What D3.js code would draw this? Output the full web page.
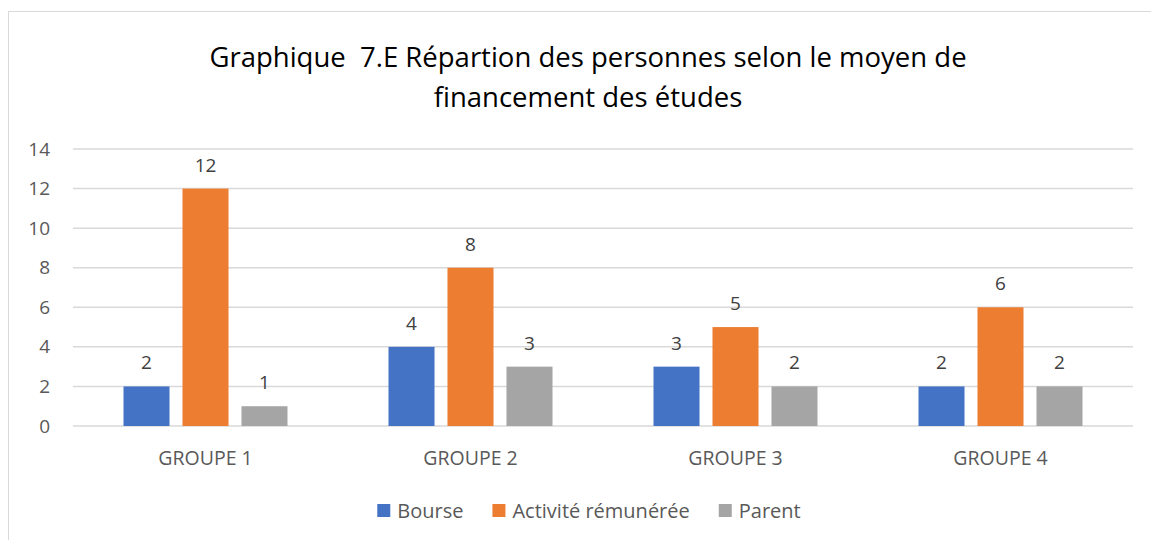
<!DOCTYPE html>
<html>
<head>
<meta charset="utf-8">
<script src="https://cdn.jsdelivr.net/npm/d3@7"></script>
<style>
  body { margin: 0; background: #fff; }
  svg text { font-family: "Open Sans", sans-serif; white-space: pre; }
</style>
</head>
<body>
<div id="chart"></div>
<script>
// Chart data
const groups = ['GROUPE 1', 'GROUPE 2', 'GROUPE 3', 'GROUPE 4'];
const seriesNames = ['Bourse', 'Activité rémunérée', 'Parent'];
const bourse = [2, 4, 3, 2];
const activite = [12, 8, 5, 6];
const parent = [1, 3, 2, 2];
const yTicks = [0, 2, 4, 6, 8, 10, 12, 14];
const titleLines = ['Graphique  7.E Répartion des personnes selon le moyen de', 'financement des études'];

const width = 1151;
const height = 540;
const margin = { top: 149, right: 18, bottom: 114, left: 73 };

const svg = d3.select('#chart')
    .append('svg')
    .attr('width', width)
    .attr('height', height);

// Chart area border (only left and top visible)
svg.append('rect')
    .attr('x', 8.5)
    .attr('y', 11.5)
    .attr('width', width + 10)
    .attr('height', height + 10)
    .attr('fill', '#fff')
    .attr('stroke', '#d9d9d9')
    .attr('stroke-width', 1);

const colorScale = d3.scaleOrdinal()
    .domain(seriesNames)
    .range(['#4472C4', '#ED7D31', '#A5A5A5']);

const valuesBySeries = [bourse, activite, parent];
const rows = groups.map((g, i) => ({
    group: g,
    values: seriesNames.map((s, j) => ({ series: s, value: valuesBySeries[j][i] }))
}));

const x0 = d3.scaleBand()
    .domain(groups)
    .range([margin.left, width - margin.right])
    .padding(0);

const x1 = d3.scaleBand()
    .domain(seriesNames)
    .range([0, x0.bandwidth()])
    .paddingInner(0.22)
    .paddingOuter(0.856);

const y = d3.scaleLinear()
    .domain([0, 14])
    .range([height - margin.bottom, margin.top]);

// Title
svg.append('g')
    .selectAll('text')
    .data(titleLines)
    .join('text')
    .attr('x', 588)
    .attr('y', (d, i) => 67 + i * 40)
    .attr('text-anchor', 'middle')
    .attr('font-size', 27.5)
    .attr('fill', '#000')
    .text(d => d);

// Gridlines
svg.append('g')
    .selectAll('line')
    .data(yTicks)
    .join('line')
    .attr('x1', margin.left)
    .attr('x2', width - margin.right)
    .attr('y1', d => y(d))
    .attr('y2', d => y(d))
    .attr('stroke', '#d9d9d9')
    .attr('stroke-width', 1.5);

// Y axis labels
const yAxis = d3.axisLeft(y).tickValues(yTicks).tickSize(0).tickPadding(0);
const yg = svg.append('g')
    .attr('transform', `translate(${margin.left - 23},0)`)
    .call(yAxis);
yg.select('.domain').remove();
yg.selectAll('text')
    .attr('font-size', 19)
    .attr('fill', '#595959')
    .attr('font-family', '"Open Sans", sans-serif');

// Bars
const groupSel = svg.append('g')
    .selectAll('g')
    .data(rows)
    .join('g')
    .attr('transform', d => `translate(${x0(d.group)},0)`);

groupSel.selectAll('rect')
    .data(d => d.values)
    .join('rect')
    .attr('x', d => x1(d.series))
    .attr('width', x1.bandwidth())
    .attr('y', d => y(d.value))
    .attr('height', d => y(0) - y(d.value))
    .attr('fill', d => colorScale(d.series));

// Data labels
groupSel.selectAll('text')
    .data(d => d.values)
    .join('text')
    .attr('x', d => x1(d.series) + x1.bandwidth() / 2)
    .attr('y', d => y(d.value) - 17)
    .attr('text-anchor', 'middle')
    .attr('font-size', 19)
    .attr('fill', '#404040')
    .text(d => d.value);

// Category labels
const xAxis = d3.axisBottom(x0).tickSize(0).tickPadding(0);
const xg = svg.append('g')
    .attr('transform', `translate(0,${y(0) + 26})`)
    .call(xAxis);
xg.select('.domain').remove();
xg.selectAll('text')
    .attr('font-size', 19.5)
    .attr('fill', '#595959')
    .attr('font-family', '"Open Sans", sans-serif')
    .attr('dy', 13);

// Legend, laid out from measured text widths and centred
const legend = svg.append('g');
const items = legend.selectAll('g')
    .data(seriesNames)
    .join('g');

items.append('rect')
    .attr('y', 504)
    .attr('width', 13)
    .attr('height', 13)
    .attr('fill', d => colorScale(d));

items.append('text')
    .attr('x', 20)
    .attr('y', 518)
    .attr('font-size', 20)
    .attr('fill', '#595959')
    .text(d => d);

let cursor = 0;
items.each(function () {
    const w = d3.select(this).select('text').node().getComputedTextLength();
    d3.select(this).attr('transform', `translate(${cursor},0)`);
    cursor += 20 + w + 29;
});
const legendWidth = cursor - 29;
legend.attr('transform', `translate(${589 - legendWidth / 2},0)`);
</script>
</body>
</html>
